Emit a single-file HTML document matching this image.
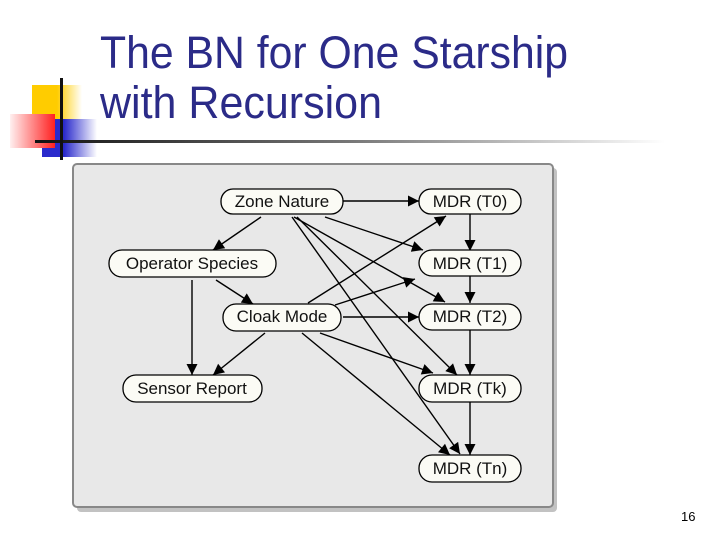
<!DOCTYPE html>
<html><head><meta charset="utf-8"><style>
html,body{margin:0;padding:0;background:#fff;width:720px;height:540px;overflow:hidden}
</style></head><body>
<svg width="720" height="540" xmlns="http://www.w3.org/2000/svg" font-family="Liberation Sans, sans-serif">
<defs>
<linearGradient id="hl" x1="0" x2="1"><stop offset="0" stop-color="#111"/><stop offset="0.5" stop-color="#777"/><stop offset="1" stop-color="#fff"/></linearGradient>
<linearGradient id="yl" x1="0" x2="1"><stop offset="0.5" stop-color="#ffcc00"/><stop offset="1" stop-color="#fff"/></linearGradient>
<linearGradient id="rd" x1="1" x2="0"><stop offset="0" stop-color="#ff2020"/><stop offset="1" stop-color="#fff0f0"/></linearGradient>
<linearGradient id="bl" x1="0" x2="1"><stop offset="0.4" stop-color="#2a2acc"/><stop offset="1" stop-color="#fff"/></linearGradient>
<marker id="a" viewBox="0 0 10 10" refX="10" refY="5" markerWidth="13" markerHeight="11" orient="auto" markerUnits="userSpaceOnUse"><path d="M0,0 L10,5 L0,10 z" fill="#000"/></marker>
</defs>
<rect x="32" y="85" width="50" height="37" fill="url(#yl)"/>
<rect x="42" y="119" width="55" height="38" fill="url(#bl)"/>
<rect x="10" y="114" width="45" height="34" fill="url(#rd)"/>
<rect x="35" y="140" width="630" height="3" fill="url(#hl)"/>
<rect x="60" y="78" width="3" height="82" fill="#111"/>
<text x="100" y="68" font-size="45" fill="#2b2b88" textLength="468" lengthAdjust="spacingAndGlyphs">The BN for One Starship</text>
<text x="100" y="118" font-size="45" fill="#2b2b88" textLength="282" lengthAdjust="spacingAndGlyphs">with Recursion</text>
<text x="681" y="521" font-size="13" fill="#000">16</text>
<rect x="77" y="168" width="480" height="344" rx="4" fill="#999" opacity="0.6"/>
<rect x="73" y="164" width="480" height="343" rx="4" fill="#e8e8e8" stroke="#888" stroke-width="2"/>
<g stroke="#000" stroke-width="1.4" fill="none" marker-end="url(#a)">
<line x1="343" y1="201" x2="419" y2="201"/>
<line x1="261" y1="217" x2="213" y2="250"/>
<line x1="325" y1="217" x2="423" y2="250"/>
<line x1="294" y1="217" x2="445" y2="302"/>
<line x1="297" y1="217" x2="457" y2="375"/>
<line x1="292" y1="217" x2="460" y2="454"/>
<line x1="216" y1="280" x2="253" y2="304"/>
<line x1="192" y1="280" x2="192" y2="375"/>
<line x1="308" y1="303" x2="446" y2="216"/>
<line x1="335" y1="305" x2="415" y2="279"/>
<line x1="343" y1="317" x2="419" y2="317"/>
<line x1="265" y1="333" x2="213" y2="375"/>
<line x1="320" y1="333" x2="433" y2="373"/>
<line x1="302" y1="333" x2="450" y2="455"/>
<line x1="470" y1="214" x2="470" y2="251"/>
<line x1="470" y1="276" x2="470" y2="303"/>
<line x1="470" y1="330" x2="470" y2="375"/>
<line x1="470" y1="402" x2="470" y2="455"/>
</g>
<g fill="#fbfbf5" stroke="#000" stroke-width="1.3">
<rect x="221" y="189" width="122" height="25" rx="12"/>
<rect x="419" y="189" width="102" height="25" rx="12"/>
<rect x="109" y="250" width="167" height="27" rx="13"/>
<rect x="419" y="250" width="102" height="26" rx="13"/>
<rect x="223" y="304" width="118" height="27" rx="13"/>
<rect x="419" y="304" width="102" height="26" rx="13"/>
<rect x="123" y="375" width="139" height="27" rx="13"/>
<rect x="419" y="375" width="102" height="27" rx="13"/>
<rect x="419" y="455" width="102" height="27" rx="13"/>
</g>
<g font-size="17" fill="#111" text-anchor="middle">
<text x="282" y="207">Zone Nature</text>
<text x="470" y="207">MDR (T0)</text>
<text x="192" y="269">Operator Species</text>
<text x="470" y="269">MDR (T1)</text>
<text x="282" y="322">Cloak Mode</text>
<text x="470" y="322">MDR (T2)</text>
<text x="192" y="394">Sensor Report</text>
<text x="470" y="394">MDR (Tk)</text>
<text x="470" y="474">MDR (Tn)</text>
</g>
</svg>
</body></html>
